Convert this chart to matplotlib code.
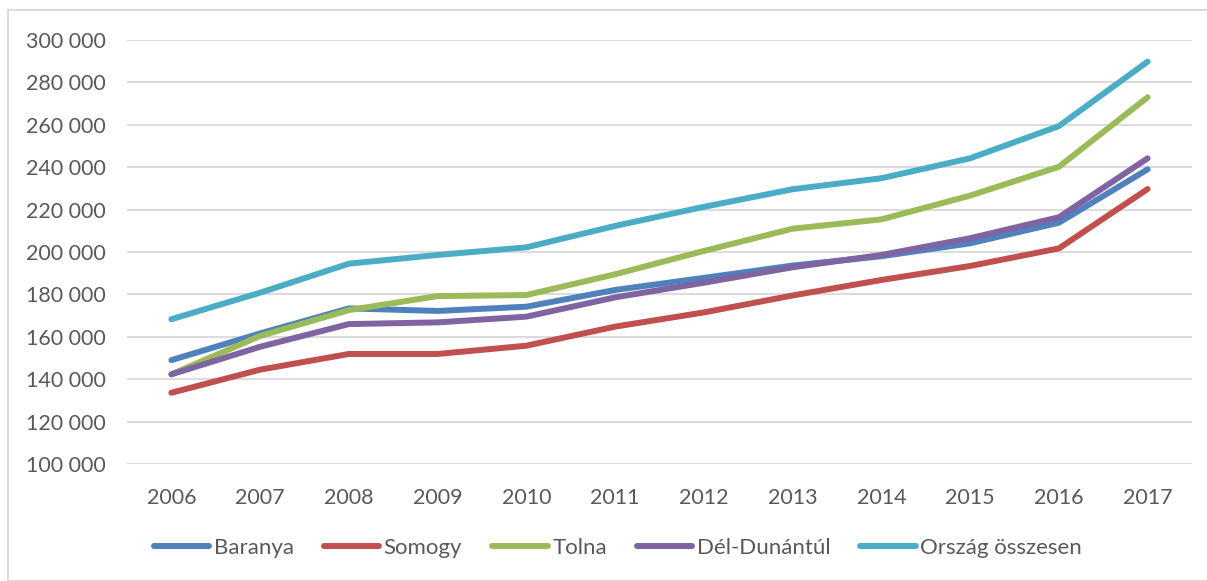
import matplotlib
matplotlib.use("Agg")
import matplotlib.pyplot as plt
from matplotlib.patches import Rectangle
from matplotlib.ticker import FuncFormatter, MultipleLocator

years = ["2006", "2007", "2008", "2009", "2010", "2011", "2012", "2013", "2014", "2015", "2016", "2017"]
baranya = [149000, 161600, 173400, 172200, 174200, 182100, 187800, 193600, 198000, 204100, 213800, 239000]
somogy = [133600, 144500, 151900, 151900, 155800, 164800, 171500, 179500, 186800, 193400, 201700, 229700]
tolna = [142300, 160400, 172600, 179200, 179700, 189500, 200500, 211000, 215400, 226600, 240200, 273000]
del_dunantul = [142300, 155300, 166000, 166800, 169500, 178600, 185500, 192800, 198600, 206500, 216400, 244200]
orszag = [168300, 180800, 194500, 198600, 202200, 212300, 221300, 229600, 234800, 244200, 259400, 289800]

series = [
    ("Baranya", baranya, "#4F81BD"),
    ("Somogy", somogy, "#C0504D"),
    ("Tolna", tolna, "#9BBB59"),
    ("Dél-Dunántúl", del_dunantul, "#8064A2"),
    ("Ország összesen", orszag, "#4BACC6"),
]

plt.rcParams['font.family'] = ['Lato', 'DejaVu Sans']
W, H = 1207, 581
fig = plt.figure(figsize=(W / 100, H / 100), dpi=100)
ax = fig.add_axes([127 / W, (H - 464) / H, (1192 - 127) / W, 424 / H])

x = list(range(len(years)))
for name, vals, col in series:
    ax.plot(x, vals, color=col, lw=4.3, label=name, solid_capstyle='round', solid_joinstyle='round')

ax.set_xlim(-0.5, len(years) - 0.5)
ax.set_ylim(100000, 300000)
ax.yaxis.set_major_locator(MultipleLocator(20000))
ax.yaxis.set_major_formatter(FuncFormatter(lambda v, p: f"{int(v):,}".replace(",", " ")))
ax.set_xticks(x)
ax.set_xticklabels(years)
ax.grid(axis='y', color='#D9D9D9', lw=1.3)
ax.set_axisbelow(True)
for s in ax.spines.values():
    s.set_visible(False)
ax.tick_params(axis='both', length=0, labelsize=15.5, colors='#595959')
ax.tick_params(axis='y', pad=15)
ax.tick_params(axis='x', pad=17)

leg = fig.legend(loc='center', bbox_to_anchor=(618 / W, 1 - 548 / H), ncol=5, frameon=False,
                 fontsize=16, handlelength=2.5, handletextpad=0.2, columnspacing=1.35)
for t in leg.get_texts():
    t.set_color('#595959')

fig.patches.append(Rectangle((8 / W, 0), 1.2, 1 - 10 / H, transform=fig.transFigure,
                             fill=False, edgecolor='#D9D9D9', lw=1.3))

fig.savefig("out.png", dpi=100)
